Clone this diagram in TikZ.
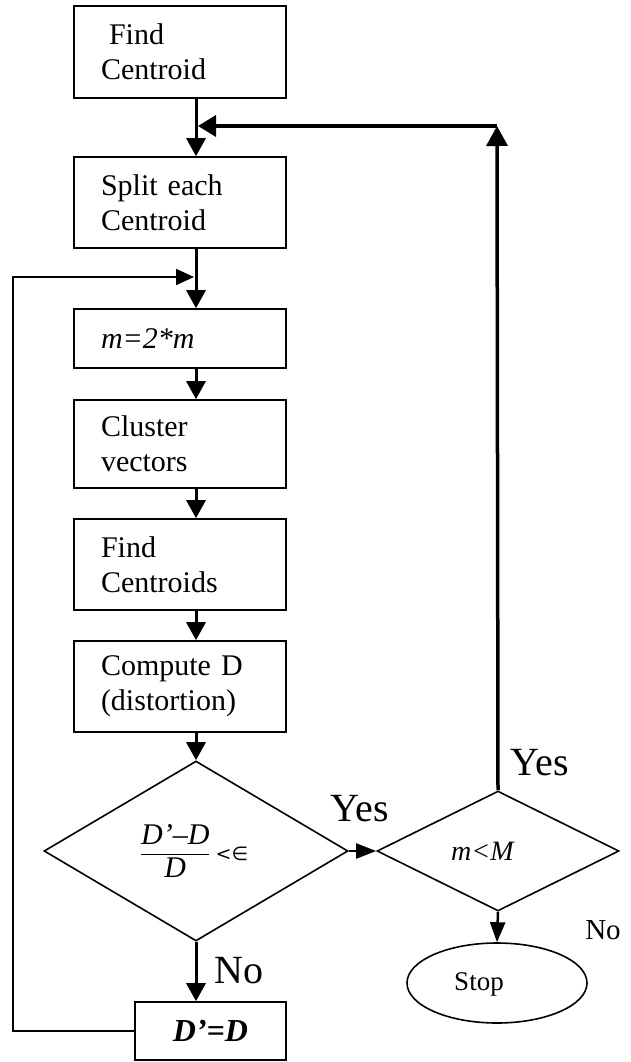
\documentclass[tikz,border=0pt]{standalone}
\usepackage{fontspec}
\setmainfont{Liberation Serif}
\newfontfamily\symfnt{DejaVu Sans}
\usetikzlibrary{arrows.meta,shapes.geometric,calc}
\begin{document}
\begin{tikzpicture}[x=1pt,y=-1pt,
  boxst/.style={draw, line width=1.6pt, inner xsep=27pt, inner ysep=0pt,
    text width=158pt, align=left, font=\fontsize{30}{35}\selectfont},
  dia/.style={draw, diamond, line width=1.6pt, inner sep=0pt},
  arr/.style={line width=3pt, -{Triangle[width=19pt,length=18pt]}},
  thinarr/.style={line width=2pt, -{Triangle[width=16pt,length=18pt]}},
  lab/.style={anchor=base, inner sep=0pt, font=\fontsize{40}{44}\selectfont},
  smlab/.style={anchor=base, inner sep=0pt, font=\fontsize{29}{32}\selectfont}]
\useasboundingbox (0,0) rectangle (630,1062);
% boxes
\node[boxst, minimum height=92pt] (b1) at (180,52) {\hspace*{8pt}Find\\Centroid};
\node[boxst, minimum height=91pt] (b2) at (180,202.5) {Split each\\Centroid};
\node[boxst, minimum height=59pt] (b3) at (180,338.5) {\textit{m=2*m}};
\node[boxst, minimum height=88pt] (b4) at (180,444) {Cluster\\vectors};
\node[boxst, minimum height=91pt] (b5) at (180,564.5) {Find\\Centroids};
\node[boxst, minimum height=91pt] (b6) at (180,686.5) {Compute D\\(distortion)};
% decisions
\node[dia, minimum width=304pt, minimum height=180pt] (d1) at (196,851)
  {\fontsize{30}{34}\selectfont$\displaystyle\frac{\textit{D'–D}}{\textit{D}}$\,{\symfnt\fontsize{19}{20}\selectfont <∈}\hspace*{4pt}};
\node[dia, minimum width=242pt, minimum height=120pt] (d2) at (498,851)
  {\fontsize{28}{30}\selectfont\hspace*{-30pt}\textit{m<M}};
\node[draw, ellipse, line width=1.6pt, minimum width=180pt, minimum height=80pt] (stop) at (497,983) {};
\node[anchor=base, inner sep=0pt, font=\fontsize{27}{30}\selectfont] (stoptxt) at (479,990) {Stop};
\node[draw, line width=1.6pt, minimum width=151pt, minimum height=58pt, inner sep=0pt,
  font=\fontsize{32}{36}\selectfont] (dd) at (210.5,1031) {\textbf{\textit{D'=D}}};
% labels
\node[lab] (yes1) at (360,821) {Yes};
\node[lab] (yes2) at (540,775) {Yes};
\node[lab] (no1) at (239,983) {No};
\node[smlab] (no2) at (603,939) {No};
% coordinates
\coordinate (ax) at (196,0);
\coordinate (tr) at (497,126);
\coordinate (tl) at (198,126);
\coordinate (lx) at (13,0);
\coordinate (lp) at (194,277);
% connectors
\draw[arr] (b1.south -| ax) -- (b2.north -| ax);
\draw[arr] (b2.south -| ax) -- (b3.north -| ax);
\draw[arr] (b3.south -| ax) -- (b4.north -| ax);
\draw[arr] (b4.south -| ax) -- (b5.north -| ax);
\draw[arr] (b5.south -| ax) -- (b6.north -| ax);
\draw[arr] (b6.south -| ax) -- (d1.north);
\draw[arr] (d1.south) -- (dd.north -| d1.south);
\draw[line width=2pt, -{Triangle[width=15pt,length=20pt]}] (d1.east) -- (d2.west);
\draw[line width=2.5pt, -{Triangle[width=15pt,length=20pt]}] (d2.south) -- (stop.north);
\draw[line width=3.5pt, -{Triangle[width=21pt,length=20pt]}] (d2.north) -- (tr);
\draw[line width=3.5pt, -{Triangle[width=21pt,length=18pt]}] (tr) -- (tl);
\draw[thinarr] (dd.west) -- (dd.west -| lx) -- (lx |- lp) -- (lp);
\end{tikzpicture}
\end{document}
